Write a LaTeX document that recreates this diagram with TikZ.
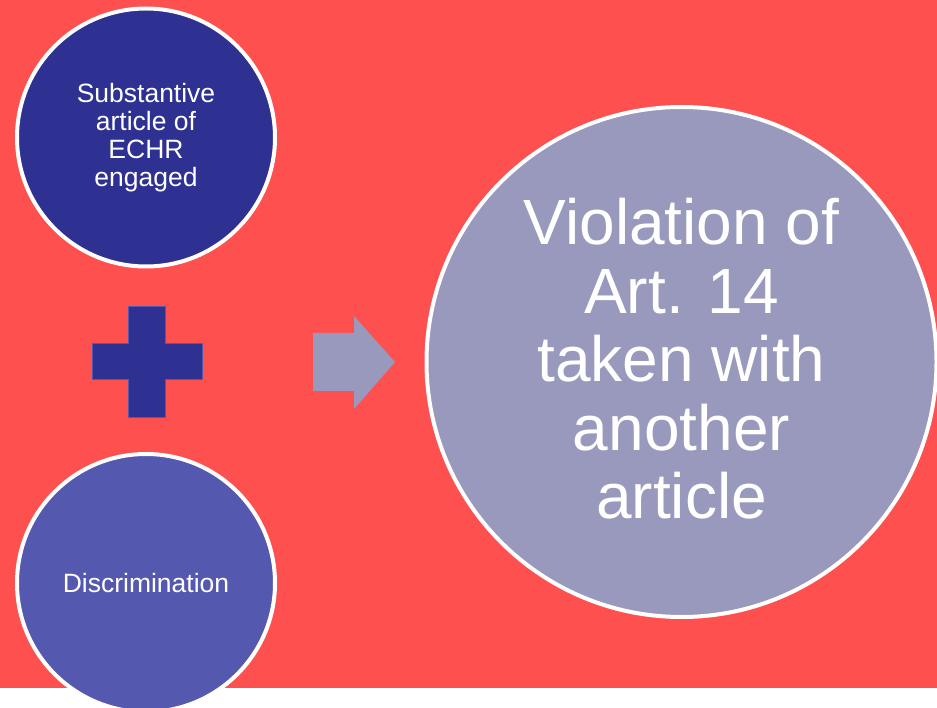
\documentclass[tikz,border=0pt]{standalone}
\usepackage{fontspec}
\setmainfont{Liberation Sans}
\definecolor{bgred}{RGB}{255,80,80}
\definecolor{darkblue}{RGB}{46,49,146}
\definecolor{midblue}{RGB}{85,88,175}
\definecolor{lavender}{RGB}{153,153,189}
\tikzset{
  smallcirc/.style={circle, draw=white, line width=4pt, minimum size=258pt, inner sep=0pt,
    text=white, align=center, font=\fontsize{26.5}{28}\selectfont},
  bigcirc/.style={circle, draw=white, line width=4pt, minimum size=510pt, inner sep=0pt},
  bigtextstyle/.style={text=white, align=center, font=\fontsize{64}{68.5}\selectfont, inner sep=0pt},
}
\begin{document}
\begin{tikzpicture}[x=1pt,y=-1pt]
\useasboundingbox (0,0) rectangle (937,708);
\fill[white] (0,0) rectangle (937,708);
\fill[bgred] (0,0) rectangle (937,688);
\node[smallcirc, fill=darkblue] (sub) at (146,137.5) {Substantive\\article of\\ECHR\\engaged};
\node[smallcirc, fill=midblue] (disc) at (146,583) {Discrimination};
\node[bigcirc, fill=lavender] (big) at (681.5,362) {};
\node[bigtextstyle] (bigtext) at (681.5,359) {Violation of\\Art. 14\\taken with\\another\\article};
% plus sign
\draw[fill=darkblue, draw=midblue, line width=1pt]
  (128,307) -- (165,307) -- (165,344) -- (202,344) -- (202,380) -- (165,380) -- (165,417)
  -- (128,417) -- (128,380) -- (92,380) -- (92,344) -- (128,344) -- cycle;
% arrow
\fill[lavender] (313,333) -- (354,333) -- (354,316) -- (395,362) -- (354,409) -- (354,391) -- (313,391) -- cycle;
\end{tikzpicture}
\end{document}
